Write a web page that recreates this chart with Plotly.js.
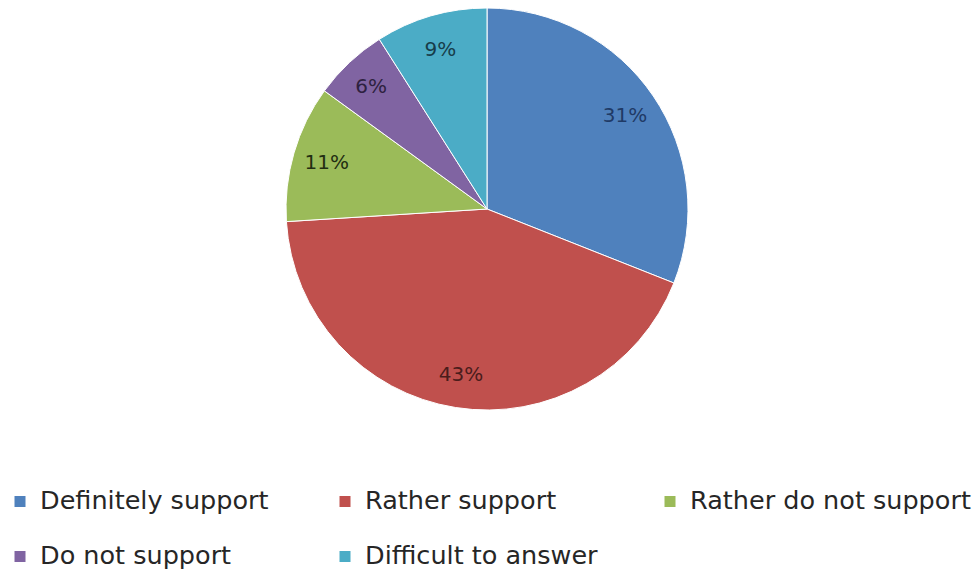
<!DOCTYPE html>
<html>
<head>
<meta charset="utf-8">
<script src="https://cdn.plot.ly/plotly-3.0.1.min.js"></script>
<style>html,body{margin:0;padding:0;background:#fff;}#chart{width:978px;height:573px;}</style>
</head>
<body>
<div id="chart"></div>
<script>
const categories = ["Definitely support", "Rather support", "Rather do not support", "Do not support", "Difficult to answer"];
const shares = [31, 43, 11, 6, 9];
const sliceColors = ["#4F81BD", "#C0504D", "#9BBB59", "#8064A2", "#4BACC6"];
const labelColors = ["#1F3A66", "#4A1C1B", "#232E12", "#2E2140", "#173D4A"];

const legendLabels = categories.map(c => '<span style="font-size:25.5px;baseline-shift:8px">' + c + '</span>');
const pieDomain = {x: [286/978, 688/978], y: [1 - 410/573, 1 - 8/573]};

// Filled pie (slices + legend)
const pieTrace = {
  type: "pie",
  labels: legendLabels,
  values: shares,
  sort: false,
  direction: "clockwise",
  rotation: 0,
  marker: {colors: sliceColors, line: {color: "#FFFFFF", width: 1}},
  textinfo: "none",
  domain: pieDomain,
  hoverinfo: "skip"
};

// Transparent ring carrying the percentage labels, so they sit toward the rim
const labelTrace = {
  type: "pie",
  labels: legendLabels,
  values: shares,
  sort: false,
  direction: "clockwise",
  rotation: 0,
  hole: 0.66,
  showlegend: false,
  marker: {colors: shares.map(() => "rgba(0,0,0,0)"), line: {width: 0}},
  texttemplate: "%{value}%",
  textposition: "inside",
  insidetextorientation: "horizontal",
  textfont: {family: "DejaVu Sans", size: 20, color: labelColors},
  domain: pieDomain,
  hoverinfo: "skip"
};

const layout = {
  width: 978, height: 573,
  margin: {l: 0, r: 0, t: 0, b: 0, autoexpand: false},
  paper_bgcolor: "#FFFFFF",
  showlegend: true,
  legend: {
    orientation: "h",
    x: 0, xanchor: "left",
    y: 1 - 469/573, yanchor: "top",
    entrywidth: 280, entrywidthmode: "pixels",
    font: {family: "DejaVu Sans", size: 40, color: "#262626"},
    traceorder: "normal"
  }
};

Plotly.newPlot("chart", [pieTrace, labelTrace], layout, {displayModeBar: false, staticPlot: true});
</script>
</body>
</html>
